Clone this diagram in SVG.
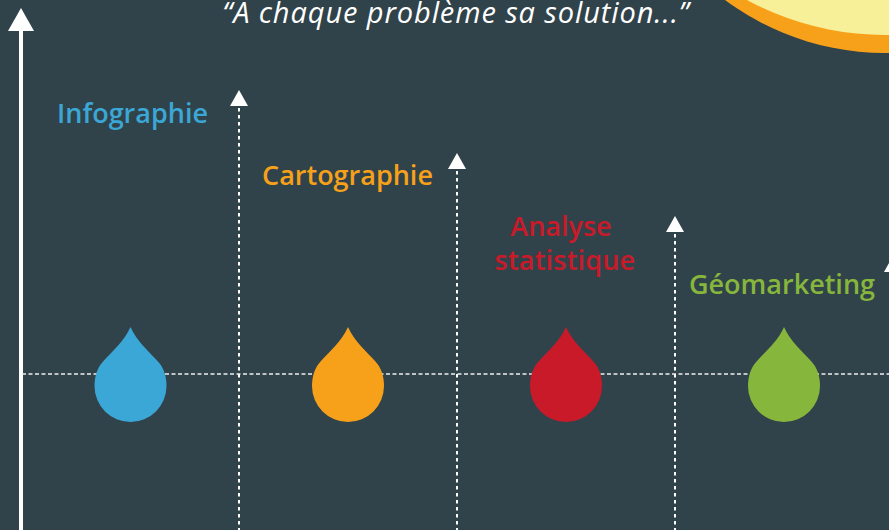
<svg xmlns="http://www.w3.org/2000/svg" width="889" height="530" viewBox="0 0 889 530">
<style>
text{font-family:"Open Sans","Noto Sans","Liberation Sans",sans-serif}
.l{font-size:27px;font-weight:600;text-anchor:middle}
.d{stroke:#fff;stroke-width:2;stroke-dasharray:3.500 3.500;fill:none}
.a{fill:#fff}
</style>
<defs><path id="drop" d="M0-59C6-45 18-35 27-25C33-19 36-10 36 0A36 36 0 0 1-36 0C-36-10-33-19-27-25C-18-35-6-45 0-59Z"/></defs>
<rect width="889" height="530" fill="#31434a"/>
<g id="sun"><circle cx="885" cy="-215" r="268" fill="#f7a11a"/><circle cx="885" cy="-254" r="289" fill="#f8f099"/></g>
<g id="quote"><text x="456" y="23" font-size="29" font-style="italic" fill="#fff" text-anchor="middle" letter-spacing="0.900">“A chaque problème sa solution...”</text></g>
<g id="connectors">
<line x1="21" y1="30" x2="21" y2="530" stroke="#fff" stroke-width="4"/>
<polygon class="a" points="21,8 34,31 8,31"/>
<line x1="22" y1="374" x2="889" y2="374" stroke="#f0f0f0" stroke-width="1.400" stroke-dasharray="4 2.500"/>
<line class="d" x1="239" y1="108" x2="239" y2="530"/><polygon class="a" points="239,90 248,106 230,106"/>
<line class="d" x1="457" y1="171" x2="457" y2="530"/><polygon class="a" points="457,153 466,169 448,169"/>
<line class="d" x1="675" y1="234" x2="675" y2="530"/><polygon class="a" points="675,216 684,232 666,232"/>
<polygon class="a" points="893,256 902,272 884,272"/>
</g>
<g id="infographie"><use href="#drop" x="130.500" y="386" fill="#3ba7d6"/><text class="l" x="132.500" y="123" fill="#3ba7d6">Infographie</text></g>
<g id="cartographie"><use href="#drop" x="348" y="386" fill="#f7a11a"/><text class="l" x="347.500" y="185" fill="#f7a11a">Cartographie</text></g>
<g id="analyse"><use href="#drop" x="566" y="386" fill="#c91a2a"/><text class="l" x="561" y="236" fill="#c91a2a">Analyse</text><text class="l" x="565" y="270" fill="#c91a2a" letter-spacing="0.200">statistique</text></g>
<g id="geomarketing"><use href="#drop" x="784" y="386" fill="#86b63c"/><text class="l" x="782" y="294" fill="#86b63c">Géomarketing</text></g>
</svg>
